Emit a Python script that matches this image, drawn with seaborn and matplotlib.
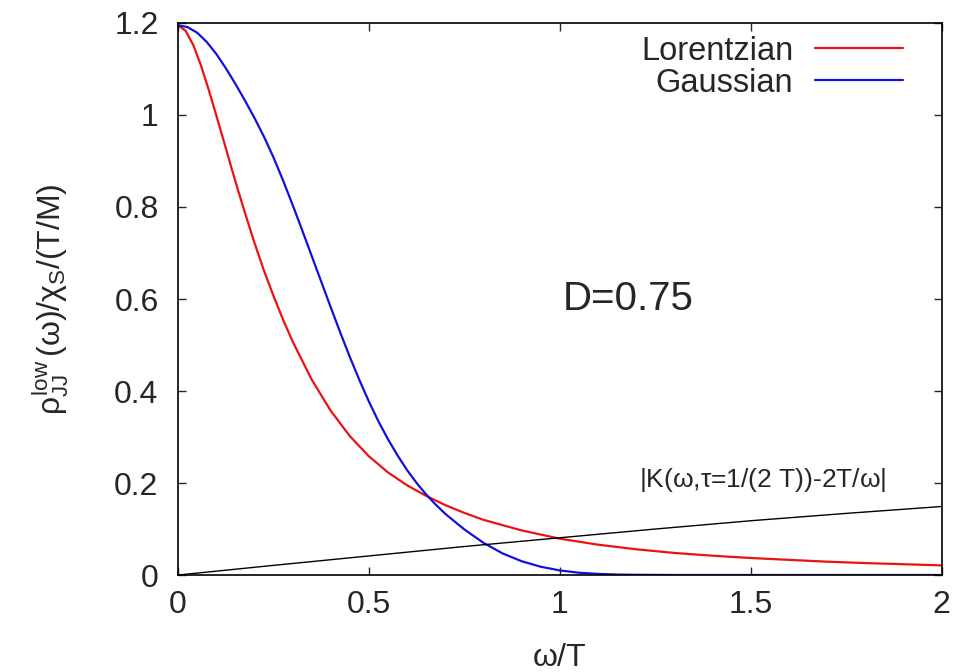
import matplotlib
matplotlib.use('Agg')
import matplotlib.pyplot as plt
import pandas as pd
import seaborn as sns

sns.set_style('ticks')
plt.rcParams['font.family'] = ['Liberation Sans', 'DejaVu Sans']
plt.rcParams['mathtext.fontset'] = 'custom'
plt.rcParams['mathtext.rm'] = 'Liberation Sans'
plt.rcParams['mathtext.it'] = 'Liberation Sans'
plt.rcParams['mathtext.sf'] = 'Liberation Sans'

# values
w_lor = [0, 0.02, 0.04, 0.06, 0.08, 0.1, 0.12, 0.14, 0.16, 0.18, 0.2, 0.225, 0.25, 0.275,
         0.3, 0.35, 0.4, 0.45, 0.5, 0.55, 0.6, 0.65, 0.7, 0.75, 0.8, 0.9, 1.0, 1.1, 1.2,
         1.3, 1.4, 1.5, 1.6, 1.7, 1.8, 1.9, 2.0]
rho_lor = [1.195, 1.183, 1.152, 1.108, 1.056, 1.0, 0.943, 0.885, 0.829, 0.775, 0.723, 0.662,
           0.607, 0.5555, 0.508, 0.425, 0.357, 0.302, 0.258, 0.223, 0.195, 0.172, 0.152,
           0.135, 0.120, 0.097, 0.079, 0.066, 0.056, 0.048, 0.042, 0.037, 0.033, 0.029,
           0.026, 0.0235, 0.021]

w_gau = [0, 0.025, 0.05, 0.075, 0.1, 0.125, 0.15, 0.175, 0.2, 0.225, 0.25, 0.275, 0.3, 0.325,
         0.35, 0.375, 0.4, 0.425, 0.45, 0.475, 0.5, 0.525, 0.55, 0.575, 0.6, 0.625, 0.65,
         0.675, 0.7, 0.75, 0.8, 0.85, 0.9, 0.95, 1.0, 1.05, 1.1, 1.15, 1.2, 1.3, 2.0]
rho_gau = [1.195, 1.191, 1.179, 1.159, 1.133, 1.102, 1.068, 1.032, 0.994, 0.953, 0.908, 0.858,
           0.805, 0.75, 0.694, 0.638, 0.582, 0.527, 0.474, 0.424, 0.377, 0.334, 0.295, 0.26,
           0.228, 0.2, 0.175, 0.153, 0.133, 0.099, 0.07, 0.047, 0.03, 0.018, 0.01, 0.005,
           0.0025, 0.001, 0.0005, 0.0, 0.0]

w_ker = [0, 0.25, 0.5, 0.75, 1.0, 1.25, 1.5, 1.75, 2.0]
k_ker = [0, 0.021, 0.0415, 0.062, 0.081, 0.100, 0.118, 0.134, 0.149]

lor = pd.DataFrame({'w': w_lor, 'rho': rho_lor})
gau = pd.DataFrame({'w': w_gau, 'rho': rho_gau})
ker = pd.DataFrame({'w': w_ker, 'rho': k_ker})

fig = plt.figure(figsize=(9.57, 6.72), dpi=100)
ax = fig.add_axes([0.186, 0.1443, 0.798, 0.8215])

sns.lineplot(data=lor, x='w', y='rho', color='#ee1111', lw=1.6, label='Lorentzian', ax=ax)
sns.lineplot(data=gau, x='w', y='rho', color='#1111dd', lw=1.6, label='Gaussian', ax=ax)
sns.lineplot(data=ker, x='w', y='rho', color='black', lw=1.0, legend=False, ax=ax)

ax.set_xlim(0, 2)
ax.set_ylim(0, 1.2)
ax.set_xticks([0, 0.5, 1, 1.5, 2])
ax.set_xticklabels(['0', '0.5', '1', '1.5', '2'])
ax.set_yticks([0, 0.2, 0.4, 0.6, 0.8, 1.0, 1.2])
ax.set_yticklabels(['0', '0.2', '0.4', '0.6', '0.8', '1', '1.2'])
ax.tick_params(direction='in', length=6, width=1, labelsize=23, top=True, right=True)
ax.tick_params(axis='x', pad=11)
ax.tick_params(axis='y', pad=14)
for s in ax.spines.values():
    s.set_linewidth(1.2)
    s.set_color('black')

ax.set_xlabel(r'$\omega$/T', fontsize=23, labelpad=16)
ax.set_ylabel(r'$\rho_{\rm JJ}^{\rm low}\,(\omega)/\chi_{\rm S}/(\rm T/M)$', fontsize=23, labelpad=31)

ax.text(1.18, 0.60, 'D=0.75', fontsize=29, ha='center', va='center')
ax.text(1.53, 0.207, r'|K($\omega$,$\tau$=1/(2 T))-2T/$\omega$|', fontsize=19, ha='center', va='center')

ax.legend(loc='upper right', bbox_to_anchor=(0.949, 0.977), frameon=False, markerfirst=False,
          fontsize=23.5, handlelength=2.7, handletextpad=0.65, labelspacing=0.03,
          borderpad=0, borderaxespad=0)

fig.savefig('out.png', dpi=100)
